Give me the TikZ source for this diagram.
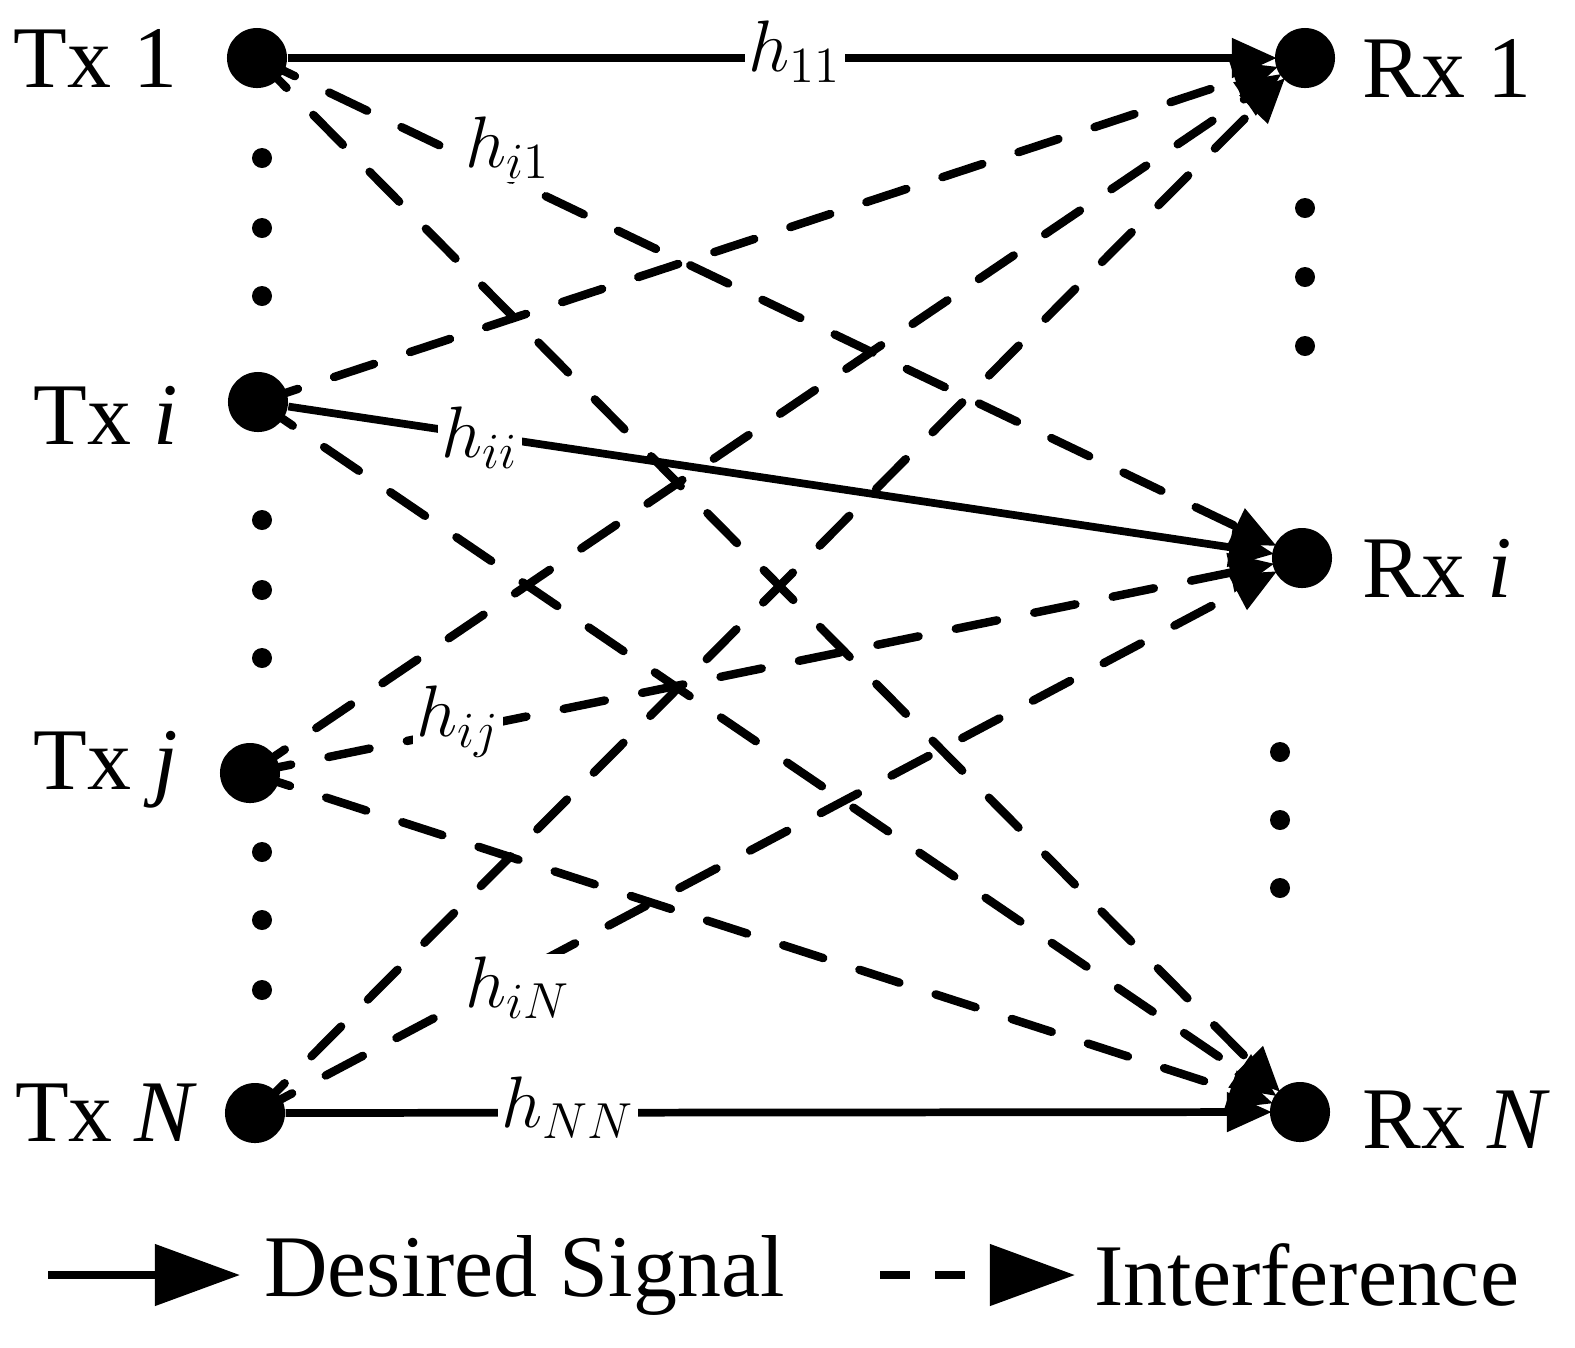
\documentclass[tikz,border=0pt]{standalone}
\usepackage{fontspec}
\setmainfont{Liberation Serif}
\usetikzlibrary{arrows.meta}
\begin{document}
\begin{tikzpicture}[x=0.01cm,y=-0.01cm,
 dot/.style={circle,fill=black,inner sep=0pt,minimum size=0.6cm},
 sd/.style={circle,fill=black,inner sep=0pt,minimum size=0.2cm},
 lab/.style={font=\fontsize{25}{28}\selectfont},
 hl/.style={fill=white,inner sep=1pt,font=\fontsize{20}{24}\selectfont},
 tip/.style={-{Triangle[length=0.45cm,width=0.38cm]},shorten >=0.28cm},
 sol/.style={line width=2.2pt},
 das/.style={line width=2.4pt,line cap=round,dash pattern=on 0.42cm off 0.38cm}]
\useasboundingbox (0,0) rectangle (1575,1347);
\node[dot] (t1) at (257,58) {};
\node[dot] (ti) at (258,402) {};
\node[dot] (tj) at (250,773) {};
\node[dot] (tN) at (255,1113) {};
\node[dot] (r1) at (1305,58) {};
\node[dot] (ri) at (1302,558) {};
\node[dot] (rN) at (1300,1112) {};
\node[lab,anchor=east] at (190,58) {Tx 1};
\node[lab,anchor=east] at (190,415) {Tx \textit{i}};
\node[lab,anchor=east] at (190,770) {Tx \textit{j}};
\node[lab,anchor=east] at (210,1113) {Tx \textit{N}};
\node[lab,anchor=west] at (1350,68) {Rx 1};
\node[lab,anchor=west] at (1350,568) {Rx \textit{i}};
\node[lab,anchor=west] at (1350,1120) {Rx \textit{N}};
\foreach \y in {158,228,296,520,590,658,852,920,990} \node[sd] (l\y) at (262,\y) {};
\foreach \y in {208,277,346} \node[sd] (a\y) at (1305,\y) {};
\foreach \y in {752,820,888} \node[sd] (b\y) at (1280,\y) {};
% dashed
\foreach \a/\b in {t1/ri,t1/rN,ti/r1,ti/rN,tj/r1,tj/ri,tj/rN,tN/r1,tN/ri}
  \draw[das,tip] (\a.center) -- (\b.center);
% solid
\draw[sol,tip] (t1) -- (r1.center);
\draw[sol,tip] (ti) -- (ri.center);
\draw[sol,tip] (tN) -- (rN.center);
\node[hl] (h11) at (795,52) {$h_{11}$};
\node[hl] (hi1) at (508,148) {$h_{i1}$};
\node[hl] (hii) at (480,438) {$h_{ii}$};
\node[hl] (hij) at (458,722) {$h_{ij}$};
\node[hl] (hiN) at (518,988) {$h_{iN}$};
\node[hl] (hNN) at (568,1108) {$h_{NN}$};
% legend
\coordinate (s1) at (48,1275); \coordinate (s2) at (240,1275);
\coordinate (d1) at (880,1275); \coordinate (d2) at (1075,1275);
\draw[sol,-{Triangle[length=0.85cm,width=0.6cm]}] (s1) -- (s2);
\draw[line width=2.2pt,dash pattern=on 0.3cm off 0.25cm,-{Triangle[length=0.85cm,width=0.6cm]}] (d1) -- (d2);
\node[lab,anchor=west] (ds) at (252,1275) {Desired Signal};
\node[lab,anchor=west] (in) at (1082,1275) {Interference};
\end{tikzpicture}
\end{document}
